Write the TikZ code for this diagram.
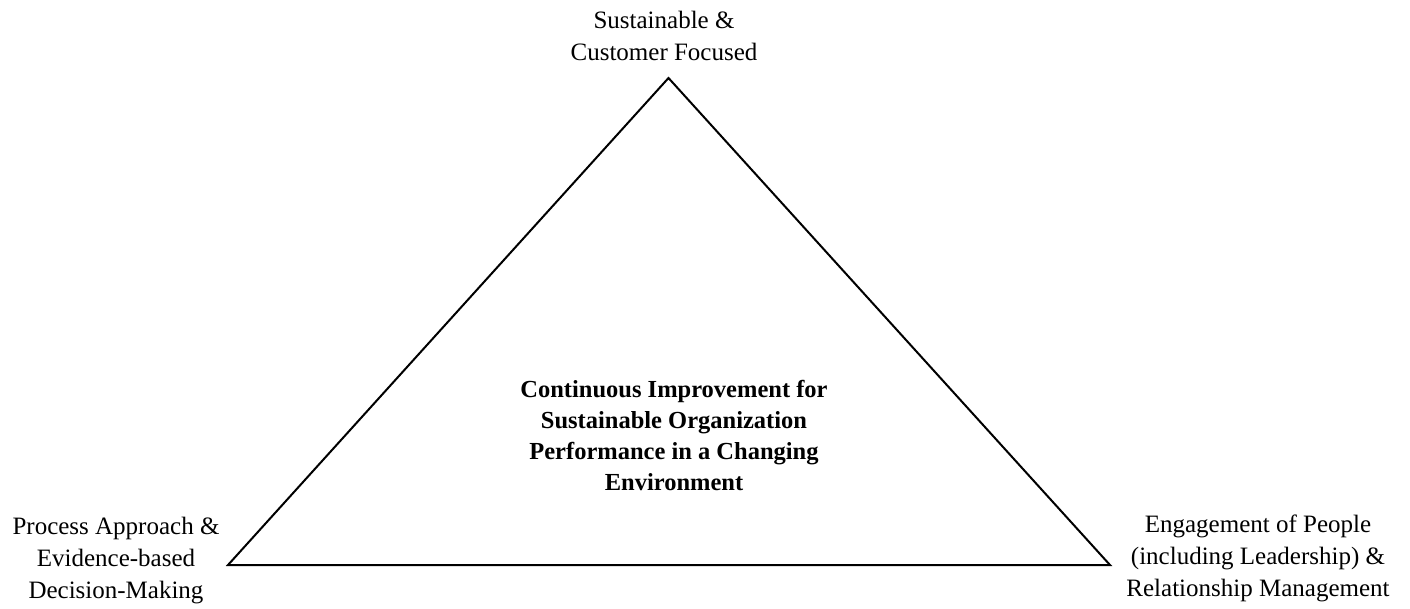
\documentclass[tikz,border=0pt]{standalone}
\usepackage{fontspec}
\setmainfont{Liberation Serif}
\begin{document}
\begin{tikzpicture}[x=1pt,y=-1pt,
  lbl/.style={align=center,inner sep=0pt,font=\fontsize{25}{32}\selectfont},
  ctr/.style={align=center,inner sep=0pt,font=\fontsize{24.5}{31}\selectfont\bfseries},
  edge/.style={draw=black,line width=2pt,line join=miter}]
\useasboundingbox (0,0) rectangle (1410,608);
\coordinate (top) at (668.5,78);
\coordinate (bl) at (228,565);
\coordinate (br) at (1110,565);
\draw[edge] (top) -- (bl) -- (br) -- cycle;
\node[lbl] (tlab) at (664,36) {Sustainable \&\\Customer Focused};
\node[lbl] (llab) at (116,561) {Process Approach \&\\Evidence-based\\Decision-Making};
\node[lbl] (rlab) at (1258,558) {Engagement of People\\(including Leadership) \&\\Relationship Management};
\node[ctr] (clab) at (674,435) {Continuous Improvement for\\Sustainable Organization\\Performance in a Changing\\Environment};
\end{tikzpicture}
\end{document}
